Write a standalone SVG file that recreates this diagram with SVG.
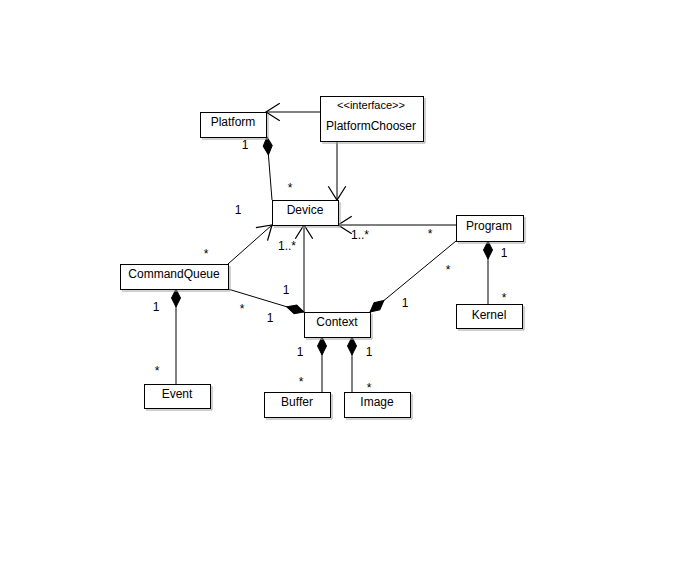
<svg xmlns="http://www.w3.org/2000/svg" width="700" height="579" viewBox="0 0 700 579">
<style>
.box{fill:#fff;stroke:#000;stroke-width:1}
.sh{fill:none;stroke:#a0a0a0;stroke-width:1}
.t{font-family:"Liberation Sans",Arial,sans-serif;font-size:12px;fill:#000;text-anchor:middle}
.st{font-family:"Liberation Sans",Arial,sans-serif;font-size:11px;fill:#000;text-anchor:middle}
.c{fill:none;stroke:#000;stroke-width:1}
</style>
<defs>
<marker id="arr" markerUnits="userSpaceOnUse" markerWidth="20" markerHeight="20" viewBox="-14 -8 16 16" refX="0" refY="0" orient="auto" overflow="visible">
<path d="M-11,-7 L0,0 L-11,7" fill="none" stroke="#000" stroke-width="1"/>
</marker>
<marker id="dia" markerUnits="userSpaceOnUse" markerWidth="24" markerHeight="12" viewBox="-20 -6 22 12" refX="0" refY="0" orient="auto" overflow="visible">
<path d="M0,0 L-9,-4.5 L-18,0 L-9,4.5 Z" fill="#000" stroke="#000" stroke-width="1"/>
</marker>
</defs>
<rect width="700" height="579" fill="#fff"/>
<g id="connectors">
<path class="c" d="M320,112 L266,112" marker-end="url(#arr)"/>
<path class="c" d="M337,141 L337,200" marker-end="url(#arr)"/>
<path class="c" d="M272,200 L267,137" marker-end="url(#dia)"/>
<path class="c" d="M456,225 L338,225" marker-end="url(#arr)"/>
<path class="c" d="M228,264 L272,225" marker-end="url(#arr)"/>
<path class="c" d="M304,312 L304,225" marker-end="url(#arr)"/>
<path class="c" d="M228,289 L304,312" marker-end="url(#dia)"/>
<path class="c" d="M456,241 L370,312" marker-end="url(#dia)"/>
<path class="c" d="M488,304 L488,241" marker-end="url(#dia)"/>
<path class="c" d="M176,384 L176,289" marker-end="url(#dia)"/>
<path class="c" d="M322,392 L322,337" marker-end="url(#dia)"/>
<path class="c" d="M352,392 L352,337" marker-end="url(#dia)"/>
</g>
<g id="labels">
<text class="t" x="245" y="149">1</text>
<text class="t" x="290" y="192">*</text>
<text class="t" x="238" y="214">1</text>
<text class="t" x="360" y="239">1..*</text>
<text class="t" x="430" y="238">*</text>
<text class="t" x="206" y="258">*</text>
<text class="t" x="287" y="250">1..*</text>
<text class="t" x="286" y="294">1</text>
<text class="t" x="242" y="313">*</text>
<text class="t" x="270" y="322">1</text>
<text class="t" x="156" y="311">1</text>
<text class="t" x="157" y="375">*</text>
<text class="t" x="300" y="356">1</text>
<text class="t" x="301" y="386">*</text>
<text class="t" x="369" y="356">1</text>
<text class="t" x="369" y="392">*</text>
<text class="t" x="405" y="307">1</text>
<text class="t" x="448" y="274">*</text>
<text class="t" x="504" y="257">1</text>
<text class="t" x="504" y="302">*</text>
</g>
<g id="Platform">
<polyline class="sh" points="268,114 268,139 202,139"/>
<rect class="box" x="200.5" y="112.5" width="66" height="25"/>
<text class="t" x="233" y="126">Platform</text>
</g>
<g id="PlatformChooser">
<polyline class="sh" points="425,98 425,143 322,143"/>
<rect class="box" x="320.5" y="96.5" width="103" height="45"/>
<text class="st" x="371" y="109">&lt;&lt;interface&gt;&gt;</text>
<text class="t" x="371" y="130">PlatformChooser</text>
</g>
<g id="Device">
<polyline class="sh" points="340,202 340,227 274,227"/>
<rect class="box" x="272.5" y="200.5" width="66" height="25"/>
<text class="t" x="305" y="214">Device</text>
</g>
<g id="Program">
<polyline class="sh" points="525,217 525,243 458,243"/>
<rect class="box" x="456.5" y="215.5" width="67" height="26"/>
<text class="t" x="489" y="230">Program</text>
</g>
<g id="Kernel">
<polyline class="sh" points="524,306 524,330 458,330"/>
<rect class="box" x="456.5" y="304.5" width="66" height="24"/>
<text class="t" x="489" y="319">Kernel</text>
</g>
<g id="CommandQueue">
<polyline class="sh" points="230,266 230,291 122,291"/>
<rect class="box" x="120.5" y="264.5" width="108" height="25"/>
<text class="t" x="174" y="278">CommandQueue</text>
</g>
<g id="Context">
<polyline class="sh" points="372,314 372,339 306,339"/>
<rect class="box" x="304.5" y="312.5" width="66" height="25"/>
<text class="t" x="337" y="326">Context</text>
</g>
<g id="Event">
<polyline class="sh" points="212,386 212,410 146,410"/>
<rect class="box" x="144.5" y="384.5" width="66" height="24"/>
<text class="t" x="177" y="398">Event</text>
</g>
<g id="Buffer">
<polyline class="sh" points="332,394 332,419 266,419"/>
<rect class="box" x="264.5" y="392.5" width="66" height="25"/>
<text class="t" x="297" y="406">Buffer</text>
</g>
<g id="Image">
<polyline class="sh" points="412,394 412,419 346,419"/>
<rect class="box" x="344.5" y="392.5" width="66" height="25"/>
<text class="t" x="377" y="406">Image</text>
</g>
</svg>
